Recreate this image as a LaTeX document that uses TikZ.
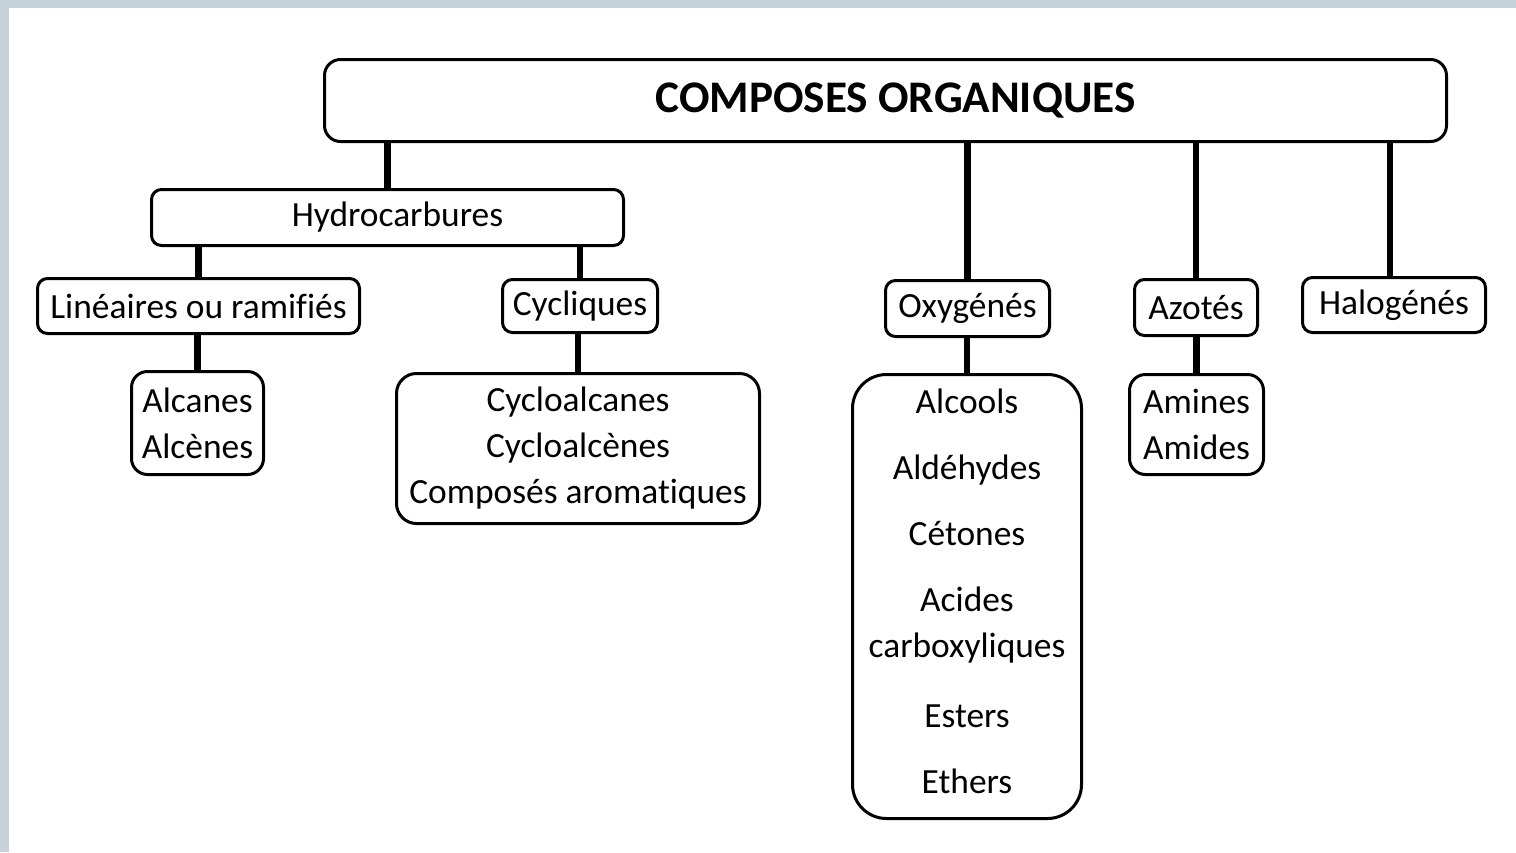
\documentclass[tikz,border=0pt]{standalone}
\usepackage{fontspec}
\setmainfont{Carlito}[Ligatures=NoCommon]
\usepackage{tikz}
\usetikzlibrary{positioning}
\definecolor{frame}{HTML}{C6D2D9}
\tikzset{
  box/.style={draw=black, line width=1.5pt, rounded corners=5pt, align=center, inner sep=0pt, font=\fontsize{17.7}{23}\selectfont},
  titlebox/.style={draw=black, line width=1.5pt, rounded corners=8pt, align=center, inner sep=0pt, font=\fontsize{22.6}{27}\selectfont\bfseries},
  listbox/.style={box, rounded corners=10pt},
  link/.style={line width=3.2pt}
}
\begin{document}
\begin{tikzpicture}[x=0.5pt, y=-0.5pt]
\useasboundingbox (0,0) rectangle (1516,852);
\fill[frame] (0,0) rectangle (1516,852);
\fill[white] (9,8) rectangle (1516,852);
% top level
\node[titlebox, minimum width=561pt, minimum height=41pt] (title) at (885.5,100.5) {\hspace*{10pt}COMPOSES ORGANIQUES};
% hydrocarbons branch
\node[box, minimum width=236pt, minimum height=28pt] (hydro) at (387.5,217.5) {\hspace*{10pt}Hydrocarbures};
\node[box, minimum width=161pt, minimum height=27.5pt] (lin) at (198.5,306) {Linéaires ou ramifiés};
\node[box, minimum width=77.5pt, minimum height=26.5pt] (cyc) at (580,306) {Cycliques};
\node[listbox, rounded corners=8pt, minimum width=66pt, minimum height=51.5pt] (alc) at (197.5,423) {Alcanes\\Alcènes};
\node[listbox, minimum width=181.5pt, minimum height=75pt] (cycl) at (578,448.5) {Cycloalcanes\\Cycloalcènes\\Composés aromatiques};
% other families
\node[box, minimum width=82pt, minimum height=28pt] (oxy) at (967.5,308.5) {Oxygénés};
\node[listbox, rounded corners=17pt, minimum width=114.5pt, minimum height=222pt] (oxl) at (967,596.5) {Alcools\\[10pt]Aldéhydes\\[10pt]Cétones\\[10pt]Acides\\carboxyliques\\[12pt]Esters\\[10pt]Ethers\\[-18pt]};
\node[box, minimum width=61.5pt, minimum height=28pt] (azo) at (1196,307.5) {Azotés};
\node[listbox, rounded corners=8pt, minimum width=67pt, minimum height=50pt] (ami) at (1196.5,424.5) {Amines\\Amides};
\node[box, minimum width=91.5pt, minimum height=27.5pt] (hal) at (1394,305) {Halogénés};
% links
\draw[link] (hydro.north) -- (hydro.north |- title.south);
\draw[link] (oxy.north) -- (oxy.north |- title.south);
\draw[link] (azo.north) -- (azo.north |- title.south);
\draw[link] ([xshift=-2pt]hal.north) -- ([xshift=-2pt]hal.north |- title.south);
\draw[link] (lin.north) -- (lin.north |- hydro.south);
\draw[link] (cyc.north) -- (cyc.north |- hydro.south);
\draw[link] (alc.north) -- (alc.north |- lin.south);
\draw[link] (cycl.north) -- (cycl.north |- cyc.south);
\draw[link] (oxl.north) -- (oxl.north |- oxy.south);
\draw[link] (ami.north) -- (ami.north |- azo.south);
\end{tikzpicture}
\end{document}
